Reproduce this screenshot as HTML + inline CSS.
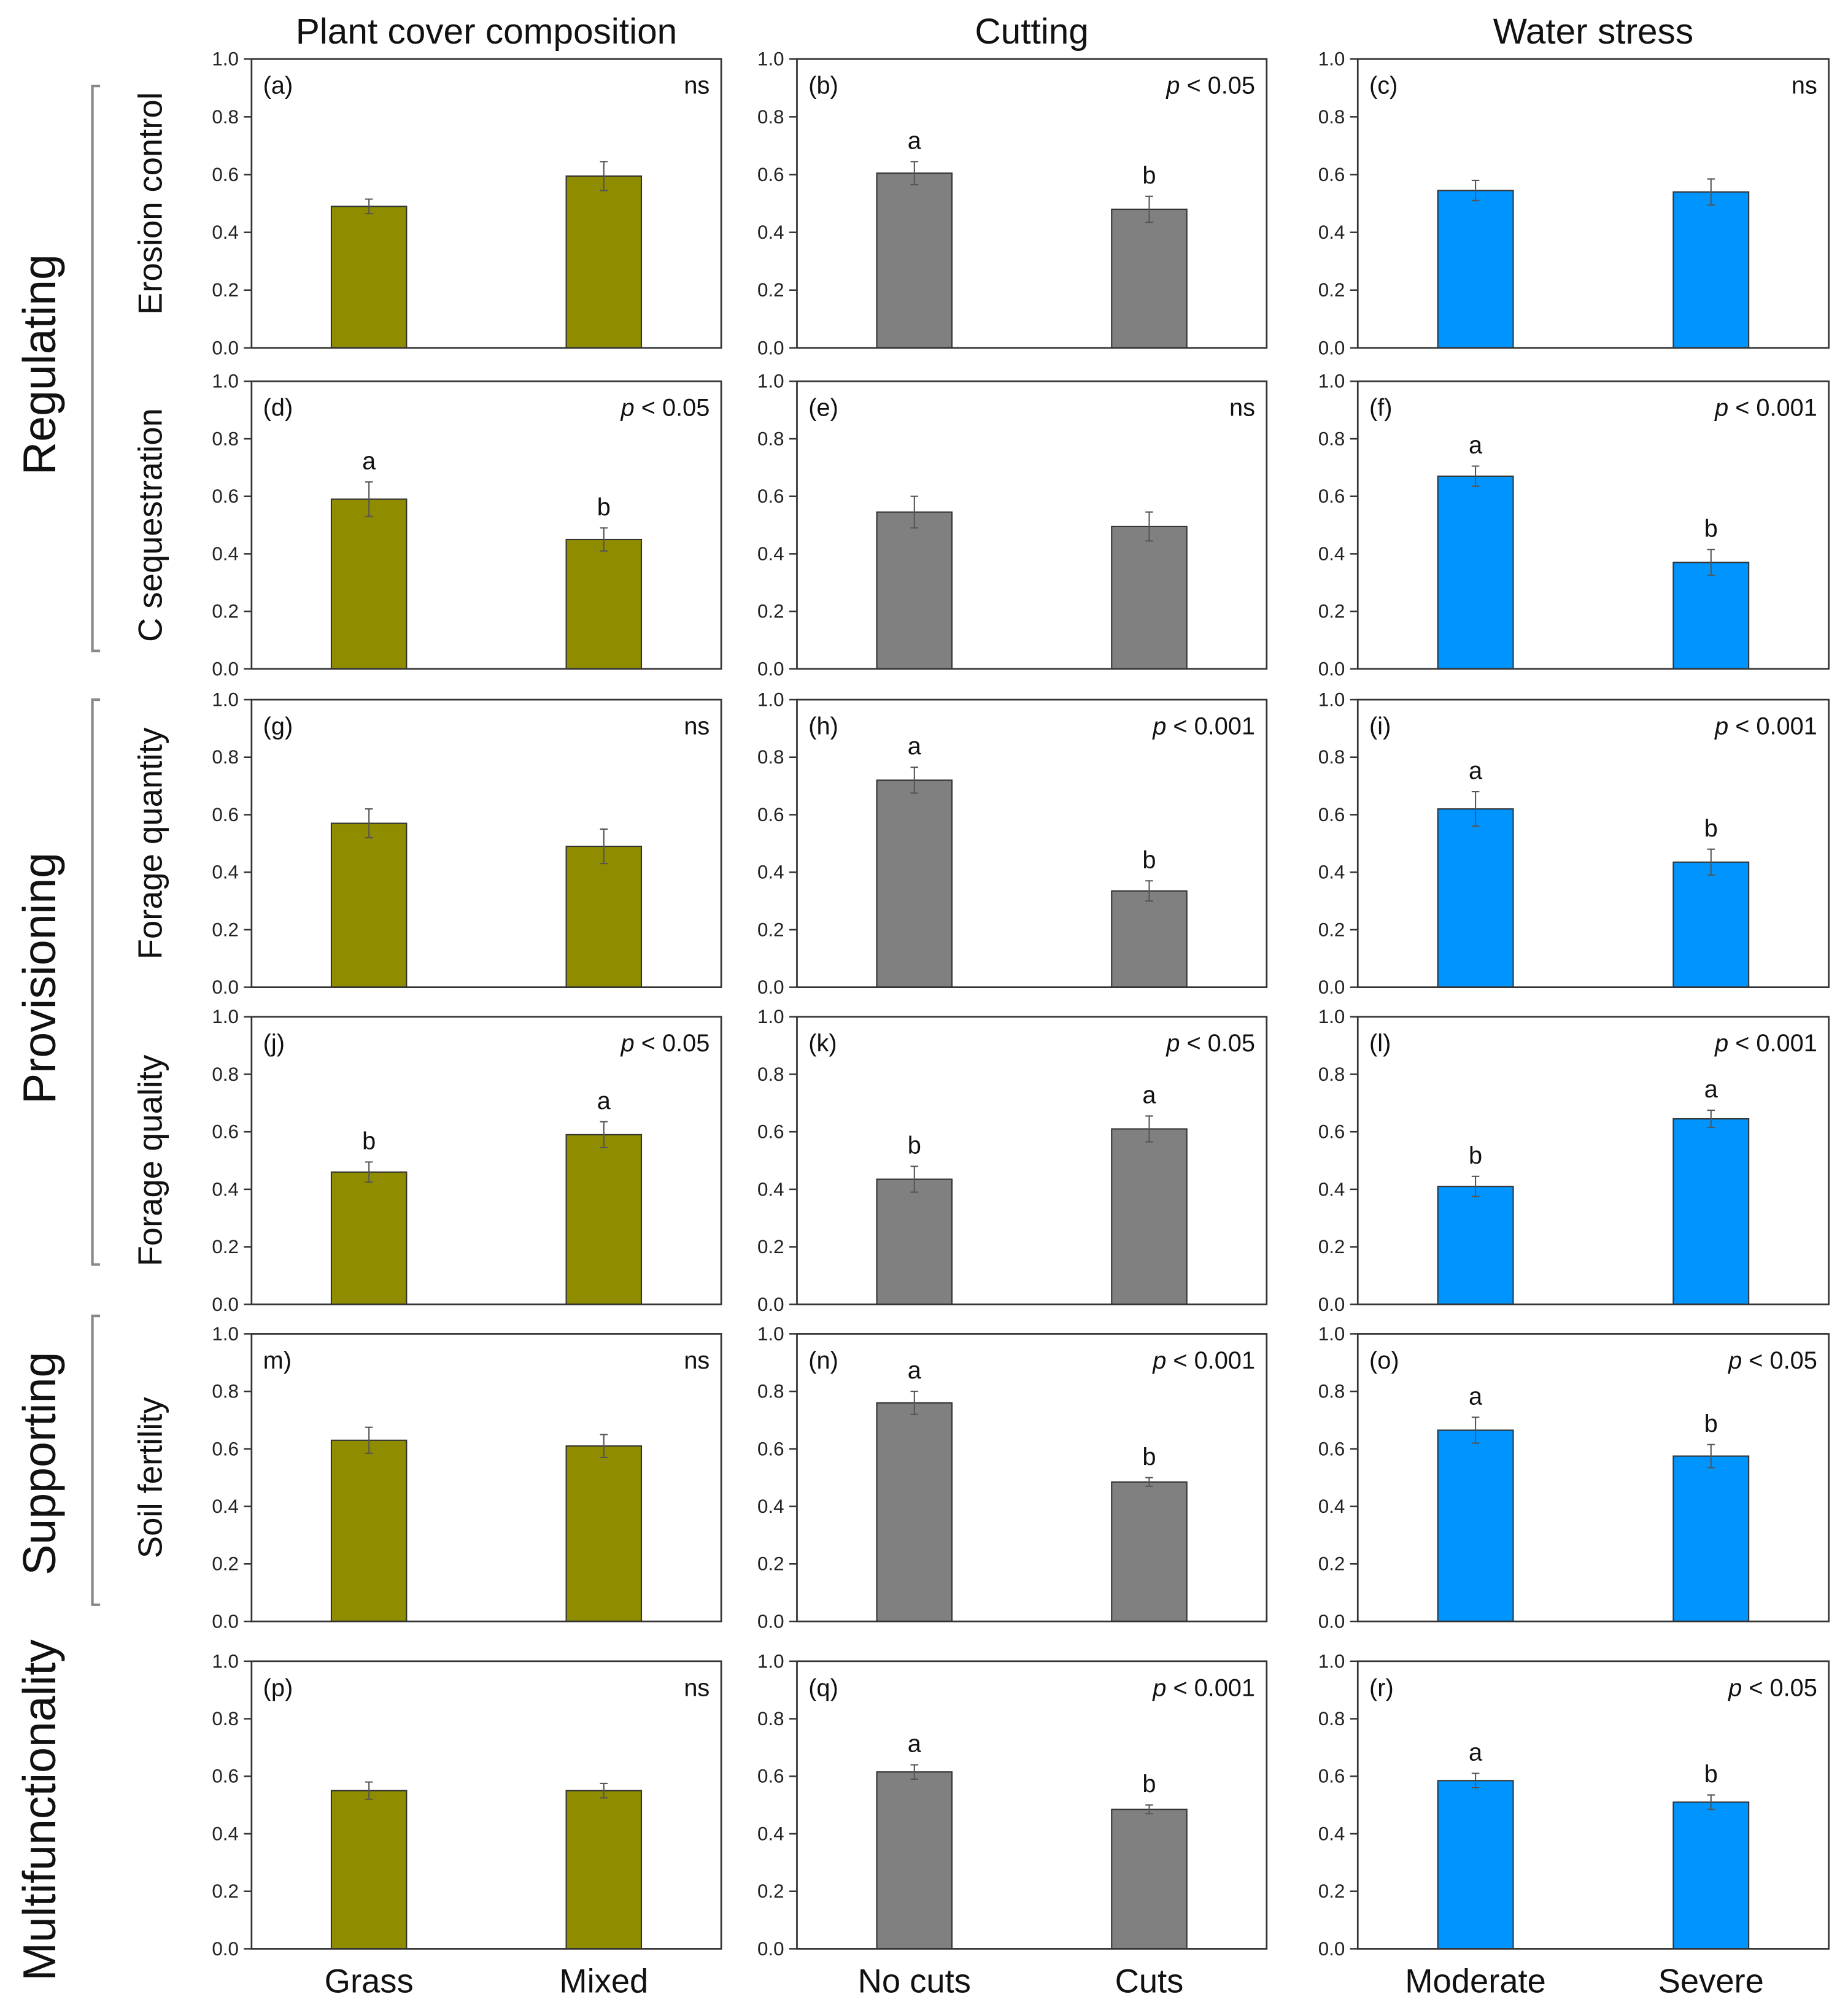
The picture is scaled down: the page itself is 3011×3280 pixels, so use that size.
<!DOCTYPE html>
<html><head><meta charset="utf-8">
<style>
html,body{margin:0;padding:0;background:#fff;}
svg{display:block;font-family:"Liberation Sans",sans-serif;}
</style></head>
<body>
<svg id="fig" width="3011" height="3280" viewBox="0 0 1440 1568" preserveAspectRatio="none" xmlns="http://www.w3.org/2000/svg"></svg>
<script>
const panelIds = ["a","b","c","d","e","f","g","h","i","j","k","l","m","n","o","p","q","r"];
const panelTags = ["(a)","(b)","(c)","(d)","(e)","(f)","(g)","(h)","(i)","(j)","(k)","(l)","m)","(n)","(o)","(p)","(q)","(r)"];
const valuesA = [0.49,0.605,0.545,0.59,0.545,0.67,0.57,0.72,0.62,0.46,0.435,0.41,0.63,0.76,0.665,0.55,0.615,0.585];
const valuesB = [0.595,0.48,0.54,0.45,0.495,0.37,0.49,0.335,0.435,0.59,0.61,0.645,0.61,0.485,0.575,0.55,0.485,0.51];
const errorsA = [0.025,0.04,0.035,0.06,0.055,0.035,0.05,0.045,0.06,0.035,0.045,0.035,0.045,0.04,0.045,0.03,0.025,0.025];
const errorsB = [0.05,0.045,0.045,0.04,0.05,0.045,0.06,0.035,0.045,0.045,0.045,0.03,0.04,0.015,0.04,0.025,0.015,0.025];
const lettersA = ["","a","","a","","a","","a","a","b","b","b","","a","a","","a","a"];
const lettersB = ["","b","","b","","b","","b","b","a","a","a","","b","b","","b","b"];
const pvals = ["ns","0.05","ns","0.05","ns","0.001","ns","0.001","0.001","0.05","0.05","0.001","ns","0.001","0.05","ns","0.001","0.05"];
const colTitles = ["Plant cover composition","Cutting","Water stress"];
const catsByCol = [["Grass","Mixed"],["No cuts","Cuts"],["Moderate","Severe"]];
const rowTitles = ["Erosion control","C sequestration","Forage quantity","Forage quality","Soil fertility",""];
const tickVals = [0,0.2,0.4,0.6,0.8,1.0];
const tickLabels = ["0.0","0.2","0.4","0.6","0.8","1.0"];
const colors = ["#8f8c00","#808080","#0094ff"];

const colX = [[196,562],[621,987],[1058,1425]];
const rowY = [[46,271],[297,521],[545,769],[792,1016],[1039,1263],[1294,1518]];
const NS="http://www.w3.org/2000/svg";
const svg=document.getElementById('fig');
function mk(tag,attrs,parent){const e=document.createElementNS(NS,tag);for(const k in attrs)e.setAttribute(k,attrs[k]);(parent||svg).appendChild(e);return e;}

for(let r=0;r<6;r++){for(let c=0;c<3;c++){
  const i=r*3+c;
  const [x0,x1]=colX[c],[y0,y1]=rowY[r];
  const g=mk('g',{});
  
  
  const y=v=>y1-(y1-y0)*v;
  const w=x1-x0;
  // ticks
  tickVals.forEach((t,k)=>{
    const tl=mk('line',{x1:x0-6,x2:x0,y1:y(t),y2:y(t),stroke:'#333','stroke-width':1.2},g);
    
    
    const tx=mk('text',{x:x0-10,y:y(t)+5,'text-anchor':'end','font-size':15,fill:'#222'},g);
    
    
    tx.textContent=tickLabels[k];
  });
  const vals=[valuesA[i],valuesB[i]],errs=[errorsA[i],errorsB[i]],lets=[lettersA[i],lettersB[i]];
  [0.25,0.75].forEach((f,j)=>{
    const cx=x0+w*f,bw=w*0.16;
    const b=mk('rect',{x:cx-bw/2,y:y(vals[j]),width:bw,height:y(0)-y(vals[j]),fill:colors[c],stroke:'#333','stroke-width':1},g);
    
    
    const eb=mk('path',{d:`M${cx},${y(vals[j]-errs[j])}V${y(vals[j]+errs[j])}M${cx-3},${y(vals[j]-errs[j])}H${cx+3}M${cx-3},${y(vals[j]+errs[j])}H${cx+3}`,stroke:'#555','stroke-width':1,fill:'none'},g);
    
    
    if(lets[j]){
      const lt=mk('text',{x:cx,y:y(vals[j]+errs[j])-10,'text-anchor':'middle','font-size':19,fill:'#111'},g);
      
      
      lt.textContent=lets[j];
    }
    if(r===5){
      const xl=mk('text',{x:cx,y:1552,'text-anchor':'middle','font-size':26,fill:'#111'},g);
      
      
      xl.textContent=catsByCol[c][j];
    }
  });
  const fr=mk('rect',{x:x0,y:y0,width:w,height:y1-y0,fill:'none',stroke:'#333','stroke-width':1.3},g);
  
  
  const pt=mk('text',{x:x0+9,y:y0+27,'font-size':19,fill:'#111'},g);
  
  
  pt.textContent=panelTags[i];
  const pv=mk('text',{x:x1-9,y:y0+27,'text-anchor':'end','font-size':19,fill:'#111'},g);
  
  
  if(pvals[i]==='ns'){pv.textContent='ns';}
  else{const s1=mk('tspan',{'font-style':'italic'},pv);s1.textContent='p';const s2=mk('tspan',{},pv);s2.textContent=' < '+pvals[i];}
}}
colTitles.forEach((t,c)=>{
  const e=mk('text',{x:(colX[c][0]+colX[c][1])/2,y:34,'text-anchor':'middle','font-size':28,fill:'#111'});
  
  
  e.textContent=t;
});
rowTitles.forEach((t,r)=>{
  if(!t)return;
  const cy=(rowY[r][0]+rowY[r][1])/2;
  const e=mk('text',{x:0,y:0,transform:`translate(126,${cy}) rotate(-90)`,'text-anchor':'middle','font-size':26,fill:'#111'});
  
  
  e.textContent=t;
});
const groups=[["Regulating",67,507,284],["Provisioning",545,985,762],["Supporting",1025,1250,1140],["Multifunctionality",null,null,1410]];
groups.forEach(([t,a,b,cy])=>{
  const e=mk('text',{x:0,y:0,transform:`translate(43,${cy}) rotate(-90)`,'text-anchor':'middle','font-size':36,fill:'#111'});
  
  
  e.textContent=t;
  if(a!==null){
    const br=mk('path',{d:`M78,${a}H72V${b}H78`,stroke:'#888','stroke-width':2,fill:'none'});
    
    
  }
});
</script>
</body></html>
